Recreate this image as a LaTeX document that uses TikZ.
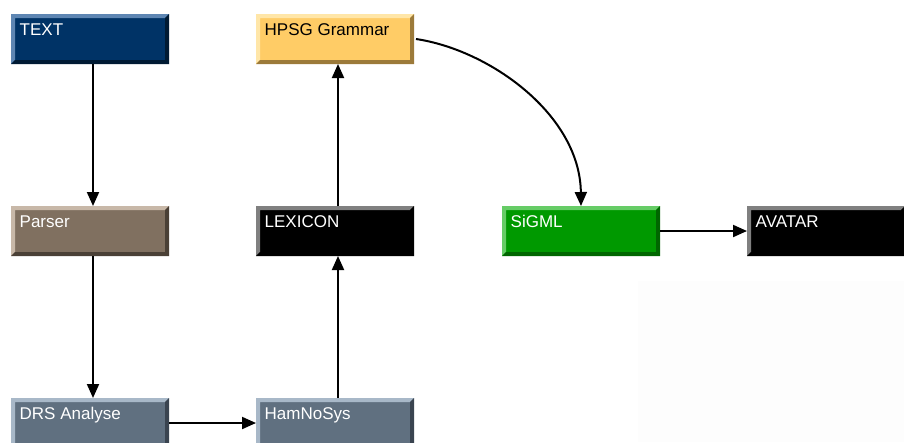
\documentclass[tikz,border=0pt]{standalone}
\usepackage{fontspec}
\setmainfont{Liberation Sans}
\usetikzlibrary{arrows.meta}

% box palettes: face, highlight, shadow
\definecolor{textfill}{HTML}{003366}\definecolor{textlight}{HTML}{5E86B3}\definecolor{textdark}{HTML}{001A33}
\definecolor{hpsgfill}{HTML}{FFCC66}\definecolor{hpsglight}{HTML}{FFE6A8}\definecolor{hpsgdark}{HTML}{9C7A3A}
\definecolor{parserfill}{HTML}{807060}\definecolor{parserlight}{HTML}{C8B8A8}\definecolor{parserdark}{HTML}{4A4036}
\definecolor{lexfill}{HTML}{000000}\definecolor{lexlight}{HTML}{808080}\definecolor{lexdark}{HTML}{000000}
\definecolor{sigmlfill}{HTML}{009900}\definecolor{sigmllight}{HTML}{66CC66}\definecolor{sigmldark}{HTML}{006600}
\definecolor{avatarfill}{HTML}{000000}\definecolor{avatarlight}{HTML}{808080}\definecolor{avatardark}{HTML}{000000}
\definecolor{drsfill}{HTML}{607080}\definecolor{drslight}{HTML}{A8B8C8}\definecolor{drsdark}{HTML}{3A4450}
\definecolor{hamfill}{HTML}{607080}\definecolor{hamlight}{HTML}{A8B8C8}\definecolor{hamdark}{HTML}{3A4450}
\definecolor{panel}{HTML}{FDFDFD}

% bevelled box: #1 name, #2 left, #3 top, #4 text colour, #5 label
\newcommand\bevbox[5]{%
  \node[boxbase, fill=#1fill] (#1) at (#2,#3) {};
  \fill[#1light] (#1.north west) -- (#1.north east) -- ([shift={(-4,4)}]#1.north east)
     -- ([shift={(4,4)}]#1.north west) -- ([shift={(4,-4)}]#1.south west) -- (#1.south west) -- cycle;
  \fill[#1dark] (#1.south east) -- (#1.north east) -- ([shift={(-4,4)}]#1.north east)
     -- ([shift={(-4,-4)}]#1.south east) -- ([shift={(4,-4)}]#1.south west) -- (#1.south west) -- cycle;
  \node[boxlabel, text=#4] at ([shift={(8.5,21.5)}]#1.north west) {#5};
}

\tikzset{
  boxbase/.style={anchor=north west, inner sep=0pt, outer sep=0pt, draw=none,
    minimum width=158pt, minimum height=50pt},
  boxlabel/.style={anchor=base west, inner sep=0pt, font=\fontsize{17}{20}\selectfont},
  flow/.style={line width=2pt, -{Triangle[length=14pt,width=12pt]}},
}

\begin{document}
\begin{tikzpicture}[x=1pt,y=-1pt]
  \useasboundingbox (0,0) rectangle (904,442);
  \clip (0,0) rectangle (904,442);
  \fill[panel] (638,281) rectangle (904,442);

  \bevbox{text}{11}{14}{white}{TEXT}
  \bevbox{hpsg}{256}{14}{black}{HPSG Grammar}
  \bevbox{parser}{11}{206}{white}{Parser}
  \bevbox{lex}{256}{206}{white}{LEXICON}
  \bevbox{sigml}{502}{206}{white}{SiGML}
  \bevbox{avatar}{747}{206}{white}{AVATAR}
  \bevbox{drs}{11}{398}{white}{DRS Analyse}
  \bevbox{ham}{256}{398}{white}{HamNoSys}

  \draw[flow] ([xshift=3pt]text.south) -- ([xshift=3pt]parser.north);
  \draw[flow] ([xshift=3pt]parser.south) -- ([xshift=3pt]drs.north);
  \draw[flow] (drs.east) -- (ham.west);
  \draw[flow] ([xshift=3pt]ham.north) -- ([xshift=3pt]lex.south);
  \draw[flow] ([xshift=3pt]lex.north) -- ([xshift=3pt]hpsg.south);
  \draw[flow] ([xshift=2pt]hpsg.east) .. controls (490,50) and (580,115) .. (sigml.north);
  \draw[flow] (sigml.east) -- (avatar.west);
\end{tikzpicture}
\end{document}
